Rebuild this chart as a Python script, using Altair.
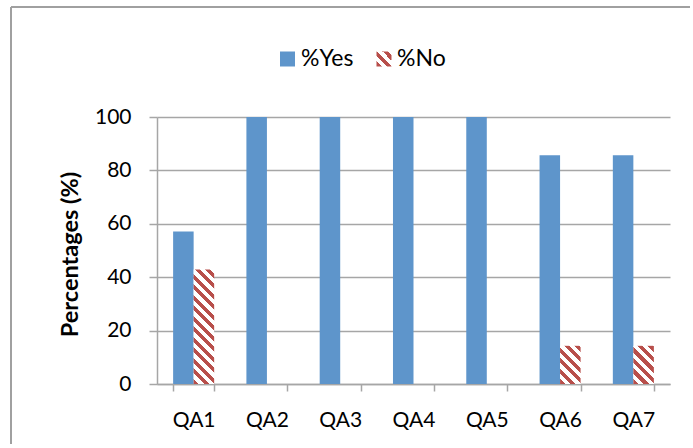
import altair as alt
import pandas as pd

categories = ["QA1", "QA2", "QA3", "QA4", "QA5", "QA6", "QA7"]
yes_values = [57.1, 100, 100, 100, 100, 85.7, 85.7]
no_values = [42.9, 0, 0, 0, 0, 14.3, 14.3]
series = ["%Yes", "%No"]
y_ticks = [0, 20, 40, 60, 80, 100]

BLUE = "#5E95CB"
RED = "#B84F4B"
GRID = "#A6A6A6"
FONT = "Lato"
W, H = 513, 267
PAD_INNER = 0.44
STRIPE_PERIOD = 10.5

rows = []
for c, y, n in zip(categories, yes_values, no_values):
    rows.append({"q": c, "s": series[0], "v": y})
    rows.append({"q": c, "s": series[1], "v": n})
df = pd.DataFrame(rows)

step = W / len(categories)
bar_w = step * (1 - PAD_INNER) / 2


def hatch(w, h, period=STRIPE_PERIOD, frac=0.5):
    """Diagonal stripe fill built as a hard-stop linear gradient."""
    k = (1 / h + 1 / w) / (1 / h ** 2 + 1 / w ** 2)
    n = (w + h) / period
    stops = []
    i = 0
    while True:
        a = i / n
        b = min((i + frac) / n, 1)
        c = min((i + 1) / n, 1)
        stops += [
            {"offset": a, "color": RED},
            {"offset": b, "color": RED},
            {"offset": b, "color": "white"},
            {"offset": c, "color": "white"},
        ]
        if c >= 1:
            break
        i += 1
    return {"gradient": "linear", "x1": 0, "y1": 1,
            "x2": k / h, "y2": 1 - k / w, "stops": stops}


base = alt.Chart(df).mark_bar().encode(
    x=alt.X("q:N", sort=categories,
            scale=alt.Scale(domain=categories, paddingInner=PAD_INNER,
                            paddingOuter=PAD_INNER / 2),
            axis=alt.Axis(title=None, tickBand="extent", labelAngle=0,
                          tickSize=7, labelPadding=18, grid=False)),
    xOffset=alt.XOffset("s:N", scale=alt.Scale(domain=series)),
    y=alt.Y("v:Q", scale=alt.Scale(domain=[0, 100], nice=False),
            axis=alt.Axis(values=y_ticks, title="Percentages (%)",
                          tickSize=8, labelPadding=18, grid=True,
                          titleX=-80, titleY=137, titleAngle=-90,
                          titleBaseline="alphabetic", titleAlign="center",
                          titleFontWeight="bold", titleFontSize=23.5)),
)

layers = [base.transform_filter(alt.datum.s == series[0]).encode(color=alt.value(BLUE))]
for c, n in zip(categories, no_values):
    if n > 0:
        layers.append(
            base.transform_filter((alt.datum.s == series[1]) & (alt.datum.q == c))
            .encode(color=alt.value(hatch(bar_w, n / 100 * H)))
        )

# legend
sw = 15
leg_y = -58
legend_layers = [
    alt.Chart(pd.DataFrame({"s": [series[0]]})).mark_square(size=sw * sw, opacity=1)
    .encode(x=alt.value(130.5), y=alt.value(leg_y), color=alt.value(BLUE)),
    alt.Chart(pd.DataFrame({"s": [series[0]]})).mark_text(
        align="left", baseline="middle", fontSize=23, font=FONT, color="black")
    .encode(x=alt.value(144), y=alt.value(leg_y), text="s:N"),
    alt.Chart(pd.DataFrame({"s": [series[1]]})).mark_square(size=sw * sw, opacity=1)
    .encode(x=alt.value(227), y=alt.value(leg_y), color=alt.value(hatch(sw, sw))),
    alt.Chart(pd.DataFrame({"s": [series[1]]})).mark_text(
        align="left", baseline="middle", fontSize=23, font=FONT, color="black")
    .encode(x=alt.value(240), y=alt.value(leg_y), text="s:N"),
]

# outer chart border (left and top edges)
frame = pd.DataFrame({"a": [0]})
border_layers = [
    alt.Chart(frame).mark_rule(color="#A0A0A0", strokeWidth=2)
    .encode(x=alt.value(-146), x2=alt.value(560), y=alt.value(-110)),
    alt.Chart(frame).mark_rule(color="#A0A0A0", strokeWidth=2)
    .encode(x=alt.value(-146), y=alt.value(-110), y2=alt.value(360)),
]

chart = alt.layer(*layers, *legend_layers, *border_layers).properties(
    width=W, height=H,
    autosize=alt.AutoSizeParams(type="none"),
    padding={"left": 157, "top": 117, "right": 20, "bottom": 60},
).configure_view(stroke=None).configure_axis(
    labelFont=FONT, titleFont=FONT, labelFontSize=21, labelColor="black",
    titleColor="black", domainColor=GRID, tickColor=GRID, gridColor=GRID,
    domainWidth=1.5, tickWidth=1.5, gridWidth=1.5,
)

chart.save("out.html", embed_options={"renderer": "svg", "actions": False})
